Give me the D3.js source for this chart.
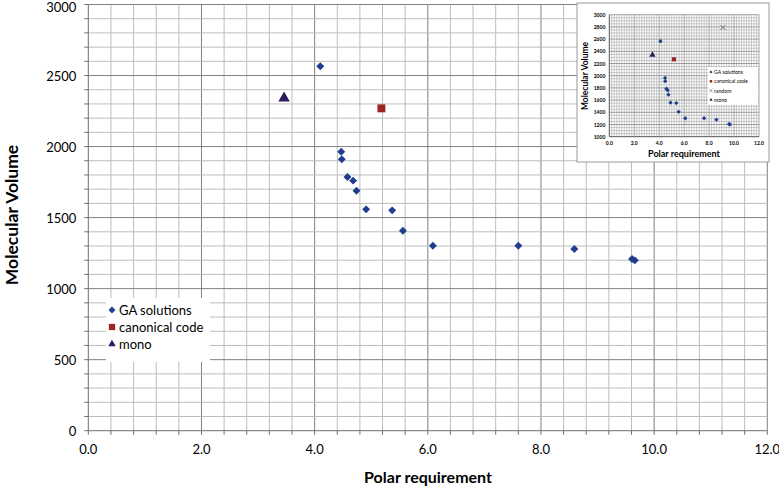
<!DOCTYPE html>
<html>
<head>
<meta charset="utf-8">
<script src="https://cdn.jsdelivr.net/npm/d3@7"></script>
<style>
  body { margin: 0; background: #fff; }
  svg { display: block; font-family: Lato, "Open Sans", sans-serif; }
</style>
</head>
<body>
<div id="chart"></div>
<script>
// data
var gaX = [4.10, 4.47, 4.48, 4.58, 4.68, 4.74, 4.91, 5.37, 5.56, 6.09, 7.60, 8.59, 9.61, 9.66];
var gaY = [2565, 1964, 1910, 1786, 1760, 1689, 1558, 1551, 1408, 1302, 1302, 1279, 1208, 1199];
var canonicalX = [5.18], canonicalY = [2269];
var monoX = [3.46], monoY = [2340];
var randomX = [9.1], randomY = [2790];
var xTicks = [0, 2, 4, 6, 8, 10, 12];
var yTicks = [0, 500, 1000, 1500, 2000, 2500, 3000];
var insetYTicks = [1000, 1200, 1400, 1600, 1800, 2000, 2200, 2400, 2600, 2800, 3000];

var W = 779, H = 487;
var blue = '#1f3d8c', red = '#9c2424', purple = '#2d1b60';

var svg = d3.select('#chart').append('svg').attr('width', W).attr('height', H);

function pts(xs, ys) { return xs.map(function(d, i){ return {x: d, y: ys[i]}; }); }
var ga = pts(gaX, gaY), canon = pts(canonicalX, canonicalY), mono = pts(monoX, monoY), rnd = pts(randomX, randomY);

var diamond = d3.symbol().type(d3.symbolDiamond2);
var square = d3.symbol().type(d3.symbolSquare2);
var tri = d3.symbol().type(d3.symbolTriangle2);

// main chart
var x = d3.scaleLinear().domain([0, 12]).range([88.3, 767.3]);
var y = d3.scaleLinear().domain([0, 3000]).range([430.7, 4.5]);

var grid = svg.append('g');
grid.selectAll('line.v').data(d3.range(1, 31).map(function(k){ return k * 0.4; }))
  .enter().append('line')
  .attr('x1', function(d){ return x(d); }).attr('x2', function(d){ return x(d); })
  .attr('y1', y(0)).attr('y2', y(3000))
  .attr('stroke', function(d){ return Math.abs(d / 2 - Math.round(d / 2)) < 1e-6 ? '#808080' : '#bdbdbd'; })
  .attr('stroke-width', 1);
grid.selectAll('line.h').data(d3.range(1, 31).map(function(k){ return k * 100; }))
  .enter().append('line')
  .attr('x1', x(0)).attr('x2', x(12))
  .attr('y1', function(d){ return y(d); }).attr('y2', function(d){ return y(d); })
  .attr('stroke', function(d){ return d % 500 === 0 ? '#808080' : '#bdbdbd'; })
  .attr('stroke-width', 1);

// axes
var xAxis = svg.append('g').attr('transform', 'translate(0,' + y(0) + ')');
xAxis.append('line').attr('x1', x(0)).attr('x2', x(12)).attr('stroke', '#6e6e6e');
xAxis.selectAll('line.t').data(d3.range(0, 31).map(function(k){ return k * 0.4; }))
  .enter().append('line')
  .attr('x1', function(d){ return x(d); }).attr('x2', function(d){ return x(d); })
  .attr('y1', 0).attr('y2', 4).attr('stroke', '#6e6e6e');
xAxis.selectAll('text').data(xTicks).enter().append('text')
  .attr('x', function(d){ return x(d); }).attr('y', 23)
  .attr('text-anchor', 'middle').attr('font-size', 13).attr('fill', '#000')
  .text(function(d){ return d.toFixed(1); });

var yAxis = svg.append('g').attr('transform', 'translate(' + x(0) + ',0)');
yAxis.append('line').attr('y1', y(0)).attr('y2', y(3000)).attr('stroke', '#6e6e6e');
yAxis.selectAll('line.t').data(d3.range(0, 31).map(function(k){ return k * 100; }))
  .enter().append('line')
  .attr('y1', function(d){ return y(d); }).attr('y2', function(d){ return y(d); })
  .attr('x1', -4).attr('x2', 0).attr('stroke', '#6e6e6e');
yAxis.selectAll('text').data(yTicks).enter().append('text')
  .attr('x', -12).attr('y', function(d){ return Math.max(y(d) + 5, 12); })
  .attr('text-anchor', 'end').attr('font-size', 13).attr('fill', '#000')
  .text(function(d){ return d; });

svg.append('text').attr('transform', 'translate(18,' + 215 + ') rotate(-90)')
  .attr('text-anchor', 'middle').attr('font-size', 17.5).attr('font-weight', 'bold')
  .text('Molecular Volume');
svg.append('text').attr('x', 428).attr('y', 483)
  .attr('text-anchor', 'middle').attr('font-size', 16).attr('font-weight', 'bold')
  .text('Polar requirement');

function drawPoints(g, data, sx, sy, sym, size, color) {
  g.selectAll(null).data(data).enter().append('path')
    .attr('transform', function(d){ return 'translate(' + sx(d.x) + ',' + sy(d.y) + ')'; })
    .attr('d', sym.size(size)())
    .attr('fill', color);
}
var marks = svg.append('g');
drawPoints(marks, ga, x, y, diamond, 40, blue);
drawPoints(marks, canon, x, y, square, 80, red);
drawPoints(marks, mono, x, y, tri, 95, purple);

// legend
var legend = svg.append('g').attr('transform', 'translate(106,298)');
legend.append('rect').attr('width', 104).attr('height', 64).attr('fill', '#fff');
var legItems = [
  {label: 'GA solutions', sym: diamond, size: 30, color: blue},
  {label: 'canonical code', sym: square, size: 50, color: red},
  {label: 'mono', sym: tri, size: 40, color: purple}
];
legItems.forEach(function(it, i) {
  var gy = 12 + i * 17;
  legend.append('path').attr('transform', 'translate(6,' + gy + ')')
    .attr('d', it.sym.size(it.size)()).attr('fill', it.color);
  legend.append('text').attr('x', 13).attr('y', gy + 5)
    .attr('font-size', 13).text(it.label);
});

// inset chart
var inset = svg.append('g');
inset.append('rect').attr('x', 577).attr('y', 3).attr('width', 192).attr('height', 159)
  .attr('fill', '#fff').attr('stroke', '#9a9a9a').attr('stroke-width', 1);
var ix = d3.scaleLinear().domain([0, 12]).range([609.3, 759]);
var iy = d3.scaleLinear().domain([1000, 3000]).range([136.7, 14.7]);

inset.selectAll('line.v').data(d3.range(1, 61).map(function(k){ return k * 0.2; }))
  .enter().append('line')
  .attr('x1', function(d){ return ix(d); }).attr('x2', function(d){ return ix(d); })
  .attr('y1', iy(1000)).attr('y2', iy(3000))
  .attr('stroke', function(d, i){ return (i + 1) % 10 === 0 ? '#6a6a6a' : '#a9a9a9'; })
  .attr('stroke-width', 0.6);
inset.selectAll('line.h').data(d3.range(1, 41).map(function(k){ return 1000 + k * 50; }))
  .enter().append('line')
  .attr('x1', ix(0)).attr('x2', ix(12))
  .attr('y1', function(d){ return iy(d); }).attr('y2', function(d){ return iy(d); })
  .attr('stroke', function(d){ return d % 200 === 0 ? '#6a6a6a' : '#a9a9a9'; })
  .attr('stroke-width', 0.6);
inset.append('line').attr('x1', ix(0)).attr('x2', ix(12)).attr('y1', iy(1000)).attr('y2', iy(1000)).attr('stroke', '#555');
inset.append('line').attr('x1', ix(0)).attr('x2', ix(0)).attr('y1', iy(1000)).attr('y2', iy(3000)).attr('stroke', '#555');
inset.selectAll('text.ix').data(xTicks).enter().append('text')
  .attr('x', function(d){ return ix(d); }).attr('y', iy(1000) + 8)
  .attr('text-anchor', 'middle').attr('font-size', 5).attr('font-weight', 'bold')
  .text(function(d){ return d.toFixed(1); });
inset.selectAll('text.iy').data(insetYTicks).enter().append('text')
  .attr('x', ix(0) - 4).attr('y', function(d){ return iy(d) + 2; })
  .attr('text-anchor', 'end').attr('font-size', 5).attr('font-weight', 'bold')
  .text(function(d){ return d; });
inset.append('text').attr('transform', 'translate(588,76) rotate(-90)')
  .attr('text-anchor', 'middle').attr('font-size', 8.5).attr('font-weight', 'bold')
  .text('Molecular Volume');
inset.append('text').attr('x', 684).attr('y', 157)
  .attr('text-anchor', 'middle').attr('font-size', 9).attr('font-weight', 'bold')
  .text('Polar requirement');

drawPoints(inset, ga, ix, iy, diamond, 12, blue);
drawPoints(inset, canon, ix, iy, square, 22, red);
drawPoints(inset, mono, ix, iy, tri, 28, purple);
inset.selectAll(null).data(rnd).enter().append('path')
  .attr('transform', function(d){ return 'translate(' + ix(d.x) + ',' + iy(d.y) + ')'; })
  .attr('d', d3.symbol().type(d3.symbolTimes).size(18)())
  .attr('fill', 'none').attr('stroke', '#555').attr('stroke-width', 0.8);

var il = inset.append('g').attr('transform', 'translate(708,67)');
il.append('rect').attr('width', 50).attr('height', 38).attr('fill', '#fff');
var ilItems = [
  {label: 'GA solutions', color: blue, sym: diamond, size: 6},
  {label: 'canonical code', color: red, sym: square, size: 8},
  {label: 'random', color: '#555', sym: d3.symbol().type(d3.symbolTimes), size: 8, stroke: true},
  {label: 'mono', color: purple, sym: tri, size: 8}
];
ilItems.forEach(function(it, i) {
  var gy = 5 + i * 9.3;
  var p = il.append('path').attr('transform', 'translate(3,' + gy + ')').attr('d', it.sym.size(it.size)());
  if (it.stroke) p.attr('fill', 'none').attr('stroke', it.color).attr('stroke-width', 0.6);
  else p.attr('fill', it.color);
  il.append('text').attr('x', 6).attr('y', gy + 2).attr('font-size', 5.2).text(it.label);
});
</script>
</body>
</html>
